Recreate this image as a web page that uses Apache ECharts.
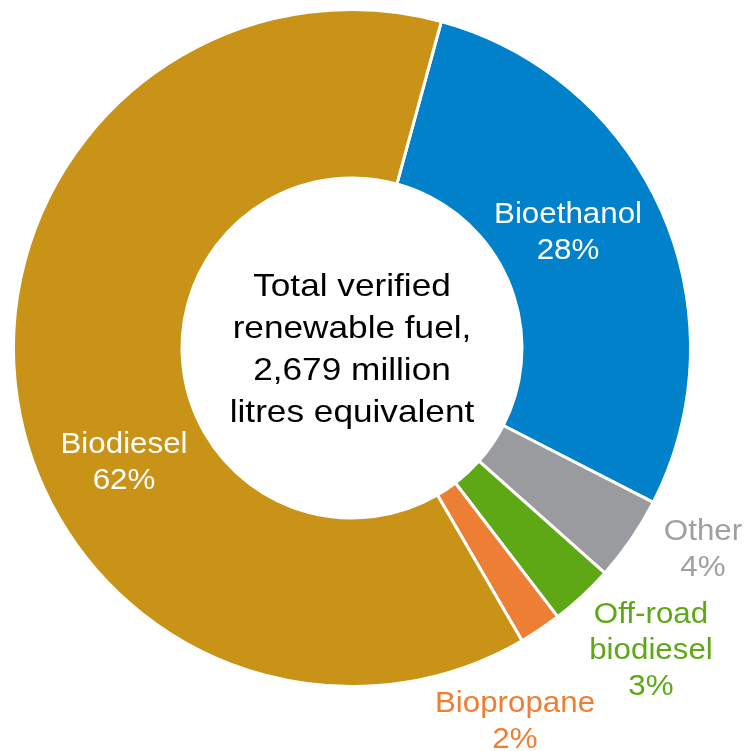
<!DOCTYPE html>
<html>
<head>
<meta charset="utf-8">
<title>Total verified renewable fuel</title>
<script src="https://cdn.jsdelivr.net/npm/echarts@6/dist/echarts.min.js"></script>
<style>
  html, body { margin: 0; padding: 0; background: #ffffff; }
  #chart { width: 745px; height: 751px; }
</style>
</head>
<body>
<div id="chart"></div>
<script>
// Share of verified renewable fuel by type (percent, as labelled)
const categories = ['Bioethanol', 'Other', 'Off-road\nbiodiesel', 'Biopropane', 'Biodiesel'];
const shares = [28, 4, 3, 2, 62];
const sliceColors = ['#0081C9', '#9A9B9F', '#5FA815', '#ED7F35', '#C89316'];
const labelColors = ['#ffffff', '#9FA0A3', '#5FA815', '#ED7F35', '#ffffff'];
const centerText = 'Total verified\nrenewable fuel,\n2,679 million\nlitres equivalent';

// Where each slice's label block sits (centre of the text block, px)
const labelAnchors = [[568, 233], [703, 550], [651, 651], [515, 722], [124, 463]];

const FONT = '"Liberation Sans", Arial, Helvetica, sans-serif';
const cx = 352, cy = 348;
// Text is set slightly wide, like the original typesetting
const TEXT_STRETCH = 1.08;

const chart = echarts.init(document.getElementById('chart'), null, { renderer: 'canvas' });

// Slice labels: name over percentage, drawn above the slices at each anchor
const sliceLabels = categories.map((name, i) => ({
  type: 'text',
  x: labelAnchors[i][0],
  y: labelAnchors[i][1],
  scaleX: TEXT_STRETCH,
  z: 100,
  silent: true,
  style: {
    text: name + '\n' + shares[i] + '%',
    fontFamily: FONT,
    fontSize: 29,
    lineHeight: 36,
    fill: labelColors[i],
    align: 'center',
    verticalAlign: 'middle'
  }
}));

chart.setOption({
  animation: false,
  backgroundColor: '#ffffff',
  series: [{
    type: 'pie',
    z: 2,
    center: [cx, cy],
    radius: [170, 338.5],
    startAngle: 74.7,
    clockwise: true,
    label: { show: false },
    labelLine: { show: false },
    itemStyle: { borderColor: '#ffffff', borderWidth: 3 },
    emphasis: { disabled: true },
    data: categories.map((name, i) => ({
      name: name,
      value: shares[i],
      itemStyle: { color: sliceColors[i] }
    }))
  }],
  graphic: {
    elements: sliceLabels.concat([{
      type: 'text',
      x: cx,
      y: cy + 2,
      scaleX: 1.1,
      z: 100,
      silent: true,
      style: {
        text: centerText,
        fontFamily: FONT,
        fontSize: 32,
        lineHeight: 42,
        fill: '#000000',
        align: 'center',
        verticalAlign: 'middle'
      }
    }])
  }
});
</script>
</body>
</html>
